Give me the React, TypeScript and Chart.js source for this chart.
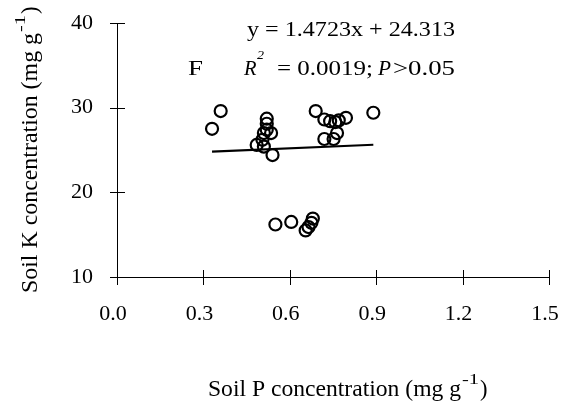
import React, { useEffect, useRef } from "react";
import { Chart, registerables } from "chart.js";

Chart.register(...registerables);

const soilP = [0.33, 0.36, 0.52, 0.52, 0.52, 0.51, 0.535, 0.505, 0.485, 0.51, 0.54,
  0.69, 0.72, 0.74, 0.758, 0.77, 0.795, 0.764, 0.72, 0.752, 0.89,
  0.55, 0.605, 0.68, 0.675, 0.665, 0.655];
const soilK = [27.5, 29.6, 28.7, 28.1, 27.4, 27.0, 27.0, 26.2, 25.6, 25.4, 24.4,
  29.6, 28.6, 28.4, 28.3, 28.5, 28.8, 27.0, 26.3, 26.3, 29.4,
  16.2, 16.5, 16.9, 16.4, 15.9, 15.5];
const trendX = [0.33, 0.89];
const trendY = [24.80, 25.62];
const xTicks = [0, 0.3, 0.6, 0.9, 1.2, 1.5];
const yTicks = [10, 20, 30, 40];
const xTitle = "Soil P concentration (mg g";
const yTitle = "Soil K concentration (mg g";
const unitSup = "-1";
const equation = "y = 1.4723x + 24.313";
const r2Text = "= 0.0019;";
const pText = ">0.05";
const panel = "F";

const SERIF = "'Liberation Serif', 'Times New Roman', serif";

function fitText(ctx: CanvasRenderingContext2D, text: string, x: number, y: number, width: number, font: string) {
  ctx.save();
  ctx.font = font;
  const w = ctx.measureText(text).width;
  ctx.translate(x, y);
  ctx.scale(width / w, 1);
  ctx.textAlign = "left";
  ctx.textBaseline = "alphabetic";
  ctx.fillText(text, 0, 0);
  ctx.restore();
}

const decor = {
  id: "decor",
  afterDraw(chart: any) {
    const ctx = chart.ctx as CanvasRenderingContext2D;
    const { left, bottom } = chart.chartArea;
    const xs = chart.scales.x;
    const ys = chart.scales.y;
    ctx.save();
    ctx.strokeStyle = "#000";
    ctx.lineWidth = 1;
    ctx.beginPath();
    xs.ticks.forEach((t: any) => {
      const px = Math.round(xs.getPixelForValue(t.value)) + 0.5;
      ctx.moveTo(px, bottom - 7);
      ctx.lineTo(px, bottom + 8);
    });
    ys.ticks.forEach((t: any) => {
      const py = Math.round(ys.getPixelForValue(t.value)) + 0.5;
      ctx.moveTo(left - 7, py);
      ctx.lineTo(left + 8, py);
    });
    ctx.stroke();
    ctx.fillStyle = "#000";

    // x title
    fitText(ctx, xTitle, 208, 396, 253, `24px ${SERIF}`);
    fitText(ctx, unitSup, 462, 384, 17, `15px ${SERIF}`);
    fitText(ctx, ")", 480, 396, 7.5, `24px ${SERIF}`);

    // y title (rotated)
    ctx.save();
    ctx.translate(37, 293);
    ctx.rotate(-Math.PI / 2);
    fitText(ctx, yTitle, 0, 0, 260, `24px ${SERIF}`);
    fitText(ctx, unitSup, 261, -12, 17, `15px ${SERIF}`);
    fitText(ctx, ")", 279, 0, 7.5, `24px ${SERIF}`);
    ctx.restore();

    // annotation
    fitText(ctx, equation, 247, 36, 208, `20px ${SERIF}`);
    fitText(ctx, panel, 188, 75, 15, `22px ${SERIF}`);
    fitText(ctx, "R", 244, 75, 12.5, `italic 20px ${SERIF}`);
    fitText(ctx, "2", 257, 59, 7, `italic 13px ${SERIF}`);
    fitText(ctx, r2Text, 277, 75, 96, `20px ${SERIF}`);
    fitText(ctx, "P", 378, 75, 13, `italic 20px ${SERIF}`);
    fitText(ctx, pText, 393, 75, 62, `20px ${SERIF}`);
    ctx.restore();
  },
};

export default function App() {
  const ref = useRef<HTMLCanvasElement>(null);
  useEffect(() => {
    if (!ref.current) return;
    const tickFont = { family: SERIF, size: 22 };
    const chart = new Chart(ref.current, {
      type: "scatter",
      data: {
        datasets: [
          {
            type: "scatter",
            data: soilP.map((x, i) => ({ x, y: soilK[i] })),
            pointStyle: "circle",
            pointRadius: 6,
            borderWidth: 2.2,
            borderColor: "#000",
            backgroundColor: "rgba(0,0,0,0)",
          },
          {
            type: "line",
            data: trendX.map((x, i) => ({ x, y: trendY[i] })),
            borderColor: "#000",
            borderWidth: 2.2,
            pointRadius: 0,
            fill: false,
          } as any,
        ],
      },
      options: {
        animation: false,
        responsive: true,
        maintainAspectRatio: false,
        layout: { padding: { top: 23, right: 17, left: 0, bottom: 0 } },
        plugins: { legend: { display: false }, tooltip: { enabled: false } },
        scales: {
          x: {
            type: "linear",
            min: 0,
            max: 1.5,
            afterBuildTicks: (s: any) => { s.ticks = xTicks.map((v) => ({ value: v })); },
            afterFit: (s: any) => {
              s.height = 130;
              s.paddingLeft = 0; s.paddingRight = 0; s.paddingTop = 0; s.paddingBottom = 0;
            },
            ticks: {
              callback: (v: any) => Number(v).toFixed(1),
              font: tickFont,
              color: "#000",
              padding: 24,
              labelOffset: -4,
              maxRotation: 0,
              autoSkip: false,
            },
            grid: { display: false, drawTicks: false },
            border: { display: true, color: "#000", width: 1 },
          },
          y: {
            type: "linear",
            min: 10,
            max: 40,
            afterBuildTicks: (s: any) => { s.ticks = yTicks.map((v) => ({ value: v })); },
            afterFit: (s: any) => {
              s.width = 117;
              s.paddingLeft = 0; s.paddingRight = 0; s.paddingTop = 0; s.paddingBottom = 0;
            },
            ticks: { font: tickFont, color: "#000", padding: 24, autoSkip: false },
            grid: { display: false, drawTicks: false },
            border: { display: true, color: "#000", width: 1 },
          },
        },
      },
      plugins: [decor],
    });
    return () => chart.destroy();
  }, []);
  return (
    <div style={{ position: "fixed", left: 0, top: 0, width: 566, height: 407, background: "#fff" }}>
      <canvas ref={ref} />
    </div>
  );
}
